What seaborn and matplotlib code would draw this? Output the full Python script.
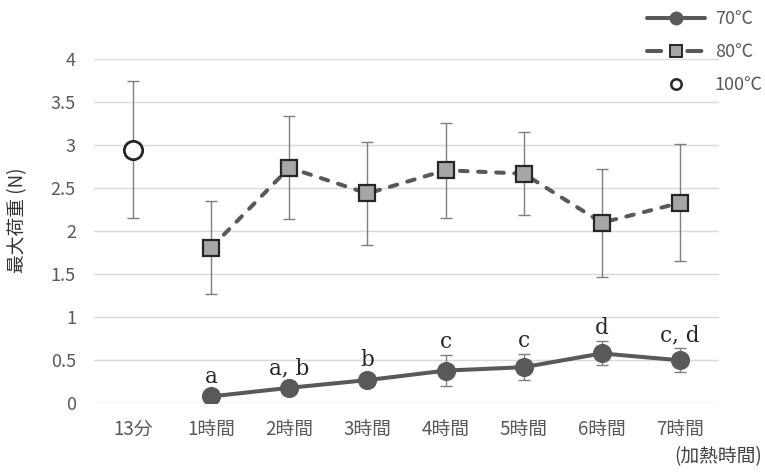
import numpy as np
import pandas as pd
import matplotlib
matplotlib.use("Agg")
import matplotlib.pyplot as plt
from matplotlib.lines import Line2D
import seaborn as sns

# Heating time categories on the x axis
categories = ["13分", "1時間", "2時間", "3時間", "4時間", "5時間", "6時間", "7時間"]

# 70℃ series: mean maximum load, SD and significance letters
time_70 = ["1時間", "2時間", "3時間", "4時間", "5時間", "6時間", "7時間"]
mean_70 = [0.08, 0.18, 0.27, 0.38, 0.42, 0.58, 0.50]
sd_70 = [0.08, 0.08, 0.08, 0.18, 0.15, 0.14, 0.14]
letters_70 = ["a", "a, b", "b", "c", "c", "d", "c, d"]

# 80℃ series
time_80 = ["1時間", "2時間", "3時間", "4時間", "5時間", "6時間", "7時間"]
mean_80 = [1.81, 2.74, 2.44, 2.71, 2.67, 2.10, 2.33]
sd_80 = [0.54, 0.60, 0.60, 0.55, 0.48, 0.63, 0.68]

# 100℃ single measurement
time_100 = ["13分"]
mean_100 = [2.95]
sd_100 = [0.80]

y_ticks = [0, 0.5, 1, 1.5, 2, 2.5, 3, 3.5, 4]
series_labels = ["70℃", "80℃", "100℃"]

sns.set_theme(style="white")
plt.rcParams["font.family"] = ["Noto Sans CJK JP", "DejaVu Sans"]

GRAY = "#595959"
ERR = "#7f7f7f"
TXT = "#595959"

pos = {c: i for i, c in enumerate(categories)}


def frame(times, means, sds):
    df = pd.DataFrame({"time": times, "load": means, "sd": sds})
    df["x"] = df["time"].map(pos)
    return df


df70 = frame(time_70, mean_70, sd_70)
df80 = frame(time_80, mean_80, sd_80)
df100 = frame(time_100, mean_100, sd_100)

fig = plt.figure(figsize=(7.65, 4.73), dpi=100)
ax = fig.add_axes([94 / 765, 1 - 403.3 / 473, 625 / 765, 344 / 473])

# error bars behind the markers
for df in (df70, df80, df100):
    ax.errorbar(df["x"], df["load"], yerr=df["sd"], fmt="none", ecolor=ERR,
                elinewidth=1.0, capsize=4, capthick=1.0, zorder=2)

sns.lineplot(data=df80, x="x", y="load", ax=ax, color=GRAY, lw=2.9,
             linestyle=(0, (1.9, 2.6)), dash_capstyle="round",
             marker="s", ms=12, mfc="#a6a6a6", mec="#262626", mew=1.6,
             errorbar=None, legend=False, zorder=4)

sns.lineplot(data=df70, x="x", y="load", ax=ax, color=GRAY, lw=2.9,
             marker="o", ms=13, mfc=GRAY, mec=GRAY,
             errorbar=None, legend=False, zorder=4)

sns.scatterplot(data=df100, x="x", y="load", ax=ax, marker="o", s=175,
                facecolor="white", edgecolor="#262626", linewidth=2.0,
                legend=False, zorder=4)

# significance letters above the 70℃ points
for xv, yv, sd, lab in zip(df70["x"], df70["load"], df70["sd"], letters_70):
    ax.annotate(lab, xy=(xv, yv + sd), xytext=(0, 5), textcoords="offset points",
                ha="center", va="baseline", fontsize=15.5, color="#262626",
                family="DejaVu Serif")

ax.set_xlim(-0.5, len(categories) - 0.5)
ax.set_ylim(0, 4)
ax.set_xticks(range(len(categories)))
ax.set_xticklabels(categories)
ax.set_yticks(y_ticks)
ax.set_yticklabels([f"{v:g}" for v in y_ticks])
ax.tick_params(axis="x", length=0, pad=11, labelsize=13.5, labelcolor=TXT)
ax.tick_params(axis="y", length=0, pad=13, labelsize=13, labelcolor=TXT)
ax.set_xlabel("")
ax.set_ylabel("")
ax.yaxis.grid(True, color="#d9d9d9", lw=1.0)
ax.xaxis.grid(False)
ax.set_axisbelow(True)
for s in ax.spines.values():
    s.set_visible(False)

fig.text(18 / 765, 1 - 220 / 473, "最大荷重 (N)", rotation=90, ha="center",
         va="center", fontsize=13.5, color="#333333")
fig.text(762 / 765, 1 - 457 / 473, "(加熱時間)", ha="right", va="center",
         fontsize=13.5, color="#404040")

handles = [
    Line2D([], [], color=GRAY, lw=2.9, marker="o", ms=9, mfc=GRAY, mec=GRAY),
    Line2D([], [], color=GRAY, lw=2.9, linestyle=(0, (3.5, 6.5)),
           dash_capstyle="round", marker="s", ms=8.5, mfc="#a6a6a6",
           mec="#262626", mew=1.4),
    Line2D([], [], linestyle="none", marker="o", ms=7.5, mfc="white",
           mec="#262626", mew=1.8),
]
fig.legend(handles, series_labels, loc="upper left",
           bbox_to_anchor=(647 / 765, 1 - 10 / 473), frameon=False,
           borderpad=0, borderaxespad=0, handlelength=3.2, handletextpad=0.55,
           labelspacing=0.84, fontsize=13, labelcolor=TXT)

fig.savefig("out.png", dpi=100)
